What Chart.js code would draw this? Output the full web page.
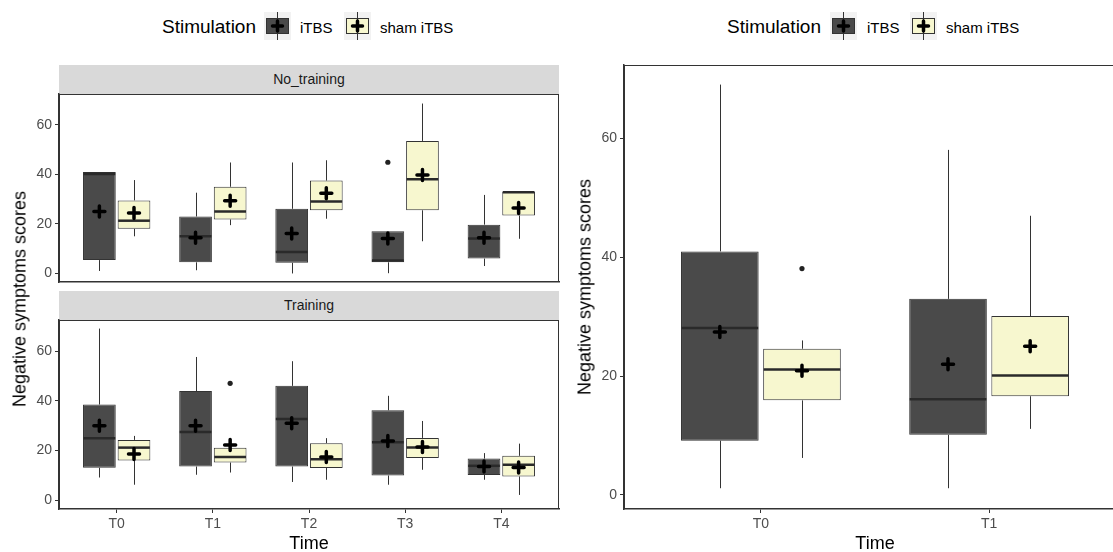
<!DOCTYPE html>
<html>
<head>
<meta charset="utf-8">
<script src="https://cdn.jsdelivr.net/npm/chart.js@4.4.1/dist/chart.umd.min.js"></script>
<style>
  html, body { margin: 0; padding: 0; width: 1113px; height: 552px; overflow: hidden; background: #fff;
    font-family: "Liberation Sans", Arial, sans-serif; }
  canvas { position: absolute; }
  .strip { position: absolute; background: #d9d9d9; font-size: 14px; color: #1a1a1a; text-align: center; }
  .txt { position: absolute; white-space: nowrap; color: #000; }
  .big { font-size: 18px; }
  .legt { font-size: 19px; }
  .small { font-size: 15px; }
</style>
</head>
<body>

<!-- legends -->
<div class="txt legt" style="left:162px; top:27px; transform:translateY(-50%)">Stimulation</div>
<canvas id="keyA1" width="27" height="28" style="left:264px; top:12px"></canvas>
<div class="txt small" style="left:300px; top:27px; transform:translateY(-50%)">iTBS</div>
<canvas id="keyA2" width="27" height="28" style="left:344px; top:12px"></canvas>
<div class="txt small" style="left:380px; top:27px; transform:translateY(-50%)">sham iTBS</div>

<div class="txt legt" style="left:727px; top:27px; transform:translateY(-50%)">Stimulation</div>
<canvas id="keyB1" width="27" height="28" style="left:830px; top:12px"></canvas>
<div class="txt small" style="left:867px; top:27px; transform:translateY(-50%)">iTBS</div>
<canvas id="keyB2" width="27" height="28" style="left:910px; top:12px"></canvas>
<div class="txt small" style="left:946px; top:27px; transform:translateY(-50%)">sham iTBS</div>

<!-- facet strips -->
<div class="strip" style="left:59px; top:65px; width:500px; height:29px; line-height:29px">No_training</div>
<div class="strip" style="left:59px; top:291px; width:500px; height:29px; line-height:29px">Training</div>

<canvas id="topLeft" width="566" height="196" style="left:0px; top:90px"></canvas>
<canvas id="bottomLeft" width="566" height="236" style="left:0px; top:316px"></canvas>
<canvas id="right" width="556" height="491" style="left:570px; top:61px"></canvas>

<!-- axis titles -->
<div class="txt big" style="left:20px; top:299px; transform:translate(-50%,-50%) rotate(-90deg)">Negative symptoms scores</div>
<div class="txt big" style="left:309px; top:543px; transform:translate(-50%,-50%)">Time</div>
<div class="txt big" style="left:585px; top:287px; transform:translate(-50%,-50%) rotate(-90deg)">Negative symptoms scores</div>
<div class="txt big" style="left:875px; top:543px; transform:translate(-50%,-50%)">Time</div>

<script>
const timeLabels = ['T0', 'T1', 'T2', 'T3', 'T4']
const timeLabelsRight = ['T0', 'T1']
const yTicks = [0, 20, 40, 60]

// ===== No_training, iTBS =====
const ntItbsLow = [1, 1.3, 0, 0.1, 3]
const ntItbsQ1 = [5.4, 4.5, 4.3, 4.5, 6]
const ntItbsMed = [40.2, 15, 8.7, 5.2, 14.1]
const ntItbsQ3 = [41, 23, 26.1, 17, 19.7]
const ntItbsHigh = [41, 32.6, 44.8, 17, 31.7]
const ntItbsMean = [25, 14.4, 16.1, 14.1, 14.4]
const ntItbsOut = [[], [], [], [44.9], []]

// ===== No_training, sham iTBS =====
const ntShamLow = [15, 19.5, 22.1, 13, 14]
const ntShamQ1 = [18, 21.8, 25.5, 25.5, 23.4]
const ntShamMed = [21.3, 25, 29, 38, 32.8]
const ntShamQ3 = [29.5, 35, 37.5, 53.5, 33]
const ntShamHigh = [37.7, 44.8, 45.7, 68.6, 33]
const ntShamMean = [24.4, 29.4, 32.4, 39.7, 26.4]
const ntShamOut = [[], [], [], [], []]

// ===== Training, iTBS =====
const trItbsLow = [9.2, 10.3, 7.4, 6.3, 8.3]
const trItbsQ1 = [13.1, 13.6, 13.6, 10, 10.2]
const trItbsMed = [25, 27.5, 32.7, 23.4, 13.9]
const trItbsQ3 = [38.5, 43.9, 46, 36.2, 16.8]
const trItbsHigh = [69, 57.6, 55.9, 42, 19]
const trItbsMean = [30, 30, 31, 23.9, 13.6]
const trItbsOut = [[], [], [], [], []]

// ===== Training, sham iTBS =====
const trShamLow = [6.3, 11.2, 8.3, 12.3, 2.2]
const trShamQ1 = [16, 15.2, 13, 17, 9.6]
const trShamMed = [21.2, 17.4, 16.5, 21.2, 14.3]
const trShamQ3 = [24.3, 21.1, 23, 25.1, 17.9]
const trShamHigh = [25.9, 21.1, 25, 31.9, 22.8]
const trShamMean = [18.6, 22.3, 17.4, 21.4, 13.2]
const trShamOut = [[], [47], [], [], []]

// ===== Right panel (pooled), T0 and T1 =====
const rItbsLow = [1.1, 1.1]
const rItbsQ1 = [9.1, 10.1]
const rItbsMed = [28.1, 16.1]
const rItbsQ3 = [41, 33]
const rItbsHigh = [69.1, 58.1]
const rItbsMean = [27.4, 22]
const rItbsOut = [[], []]

const rShamLow = [6.2, 11.1]
const rShamQ1 = [15.9, 16.6]
const rShamMed = [21.1, 20.1]
const rShamQ3 = [24.6, 30.1]
const rShamHigh = [26, 47]
const rShamMean = [20.9, 25]
const rShamOut = [[38.1], []]

const colItbs = '#4a4a4a'
const colSham = '#f7f7cf'
const colLine = '#333333'
const fontFam = '"Liberation Sans", Arial, sans-serif'

// dataset: box = floating bar q1..q3, the rest drawn by plugin
function boxSet(label, fill, low, q1, med, q3, high, mean, out) {
  return {
    label: label,
    data: q1.map((v, i) => ({ x: i + 1, y: [v, q3[i]] })),
    backgroundColor: fill,
    borderColor: colLine,
    borderWidth: 1,
    borderSkipped: false,
    categoryPercentage: 0.72,
    barPercentage: 0.945,
    stats: { low: low, med: med, high: high, mean: mean, out: out }
  }
}

const boxParts = {
  id: 'boxParts',
  afterDatasetsDraw(chart) {
    const ctx = chart.ctx
    const ys = chart.scales.y
    chart.data.datasets.forEach((ds, d) => {
      const meta = chart.getDatasetMeta(d)
      const s = ds.stats
      meta.data.forEach((el, i) => {
        const cx = Math.round(el.x) + 0.5
        const half = el.width / 2
        ctx.save()
        // whiskers
        ctx.strokeStyle = colLine
        ctx.lineWidth = 1
        ctx.beginPath()
        ctx.moveTo(cx, ys.getPixelForValue(ds.data[i].y[1]))
        ctx.lineTo(cx, ys.getPixelForValue(s.high[i]))
        ctx.moveTo(cx, ys.getPixelForValue(ds.data[i].y[0]))
        ctx.lineTo(cx, ys.getPixelForValue(s.low[i]))
        ctx.stroke()
        // median
        ctx.strokeStyle = '#2a2a2a'
        ctx.lineWidth = 2.5
        const my = ys.getPixelForValue(s.med[i])
        ctx.beginPath()
        ctx.moveTo(el.x - half + 0.5, my)
        ctx.lineTo(el.x + half - 0.5, my)
        ctx.stroke()
        // outliers
        ctx.fillStyle = '#222'
        s.out[i].forEach(v => {
          ctx.beginPath()
          ctx.arc(el.x, ys.getPixelForValue(v), 2.6, 0, Math.PI * 2)
          ctx.fill()
        })
        // mean cross
        const py = ys.getPixelForValue(s.mean[i])
        ctx.strokeStyle = '#000'
        ctx.lineWidth = 3.5
        ctx.lineCap = 'round'
        ctx.beginPath()
        ctx.moveTo(el.x - 5.5, py)
        ctx.lineTo(el.x + 5.5, py)
        ctx.moveTo(el.x, py - 5.5)
        ctx.lineTo(el.x, py + 5.5)
        ctx.stroke()
        ctx.restore()
      })
    })
    // panel frame
    const a = chart.chartArea
    ctx.save()
    ctx.strokeStyle = colLine
    ctx.lineWidth = 1
    ctx.strokeRect(a.left + 0.5, a.top + 0.5, a.right - a.left - 1, a.bottom - a.top - 1)
    ctx.restore()
  }
}

function makePanel(id, labels, yMin, yMax, showX, yWidth, xHeight, padding, sets) {
  return new Chart(document.getElementById(id), {
    type: 'bar',
    data: { datasets: sets },
    options: {
      responsive: false,
      animation: false,
      events: [],
      layout: { padding: padding },
      plugins: { legend: { display: false }, tooltip: { enabled: false } },
      scales: {
        x: {
          type: 'linear',
          min: 0.4,
          max: labels.length + 0.6,
          offset: false,
          afterBuildTicks: s => { s.ticks = labels.map((_, i) => ({ value: i + 1 })) },
          afterFit: s => { s.height = xHeight; s.paddingLeft = 0; s.paddingRight = 0 },
          ticks: {
            display: showX,
            autoSkip: false,
            maxRotation: 0,
            padding: 3,
            color: '#4d4d4d',
            font: { size: 14, family: fontFam },
            callback: (v, i) => labels[i]
          },
          grid: { display: showX, drawOnChartArea: false, drawTicks: true, tickLength: 4, color: colLine, offset: false },
          border: { display: true, color: colLine, width: 1.5 }
        },
        y: {
          min: yMin,
          max: yMax,
          afterBuildTicks: s => { s.ticks = yTicks.map(v => ({ value: v })) },
          afterFit: s => { s.width = yWidth; s.paddingTop = 0; s.paddingBottom = 0 },
          ticks: { padding: 3, color: '#4d4d4d', font: { size: 14, family: fontFam } },
          grid: { drawOnChartArea: false, drawTicks: true, tickLength: 4, color: colLine },
          border: { display: true, color: colLine, width: 1.5 }
        }
      }
    },
    plugins: [boxParts]
  })
}

makePanel('topLeft', timeLabels, -3.45, 72.45, false, 59, 0, { top: 4, right: 7, bottom: 4, left: 0 }, [
  boxSet('iTBS', colItbs, ntItbsLow, ntItbsQ1, ntItbsMed, ntItbsQ3, ntItbsHigh, ntItbsMean, ntItbsOut),
  boxSet('sham iTBS', colSham, ntShamLow, ntShamQ1, ntShamMed, ntShamQ3, ntShamHigh, ntShamMean, ntShamOut)
])

makePanel('bottomLeft', timeLabels, -3.45, 72.45, true, 59, 43, { top: 4, right: 7, bottom: 0, left: 0 }, [
  boxSet('iTBS', colItbs, trItbsLow, trItbsQ1, trItbsMed, trItbsQ3, trItbsHigh, trItbsMean, trItbsOut),
  boxSet('sham iTBS', colSham, trShamLow, trShamQ1, trShamMed, trShamQ3, trShamHigh, trShamMean, trShamOut)
])

makePanel('right', timeLabelsRight, -2.4, 72.4, true, 54, 43, { top: 4, right: 0, bottom: 0, left: 0 }, [
  boxSet('iTBS', colItbs, rItbsLow, rItbsQ1, rItbsMed, rItbsQ3, rItbsHigh, rItbsMean, rItbsOut),
  boxSet('sham iTBS', colSham, rShamLow, rShamQ1, rShamMed, rShamQ3, rShamHigh, rShamMean, rShamOut)
])

// ===== LEGEND KEYS =====
function drawKey(id, fill) {
  const ctx = document.getElementById(id).getContext('2d')
  ctx.fillStyle = '#f2f2f2'
  ctx.fillRect(0, 0, 27, 28)
  ctx.fillStyle = fill
  ctx.fillRect(2.5, 6.5, 22, 15)
  ctx.strokeStyle = colLine
  ctx.lineWidth = 1
  ctx.strokeRect(2.5, 6.5, 22, 15)
  ctx.beginPath()
  ctx.moveTo(13.5, 0)
  ctx.lineTo(13.5, 28)
  ctx.stroke()
  ctx.strokeStyle = '#000'
  ctx.lineWidth = 3.5
  ctx.lineCap = 'round'
  ctx.beginPath()
  ctx.moveTo(8.5, 14)
  ctx.lineTo(18.5, 14)
  ctx.moveTo(13.5, 9)
  ctx.lineTo(13.5, 19)
  ctx.stroke()
}
drawKey('keyA1', colItbs)
drawKey('keyA2', colSham)
drawKey('keyB1', colItbs)
drawKey('keyB2', colSham)
</script>
</body>
</html>
